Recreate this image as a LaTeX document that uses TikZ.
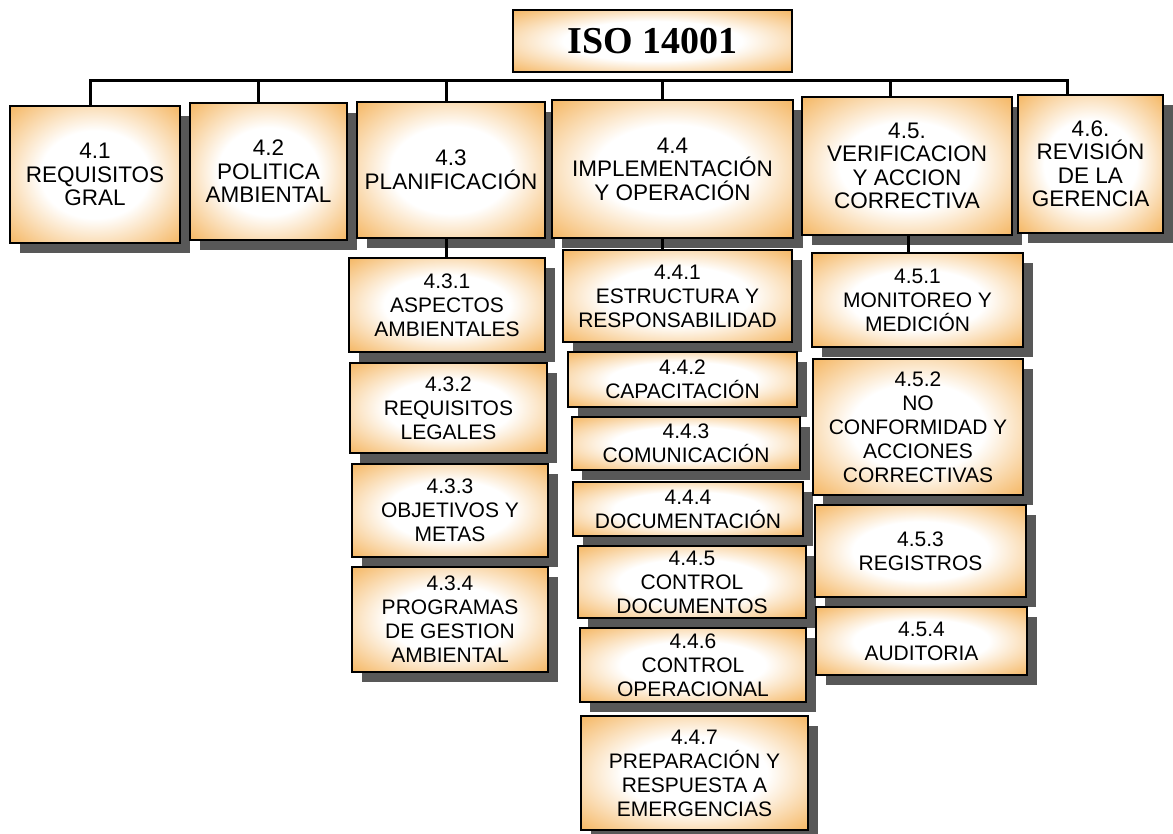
\documentclass[tikz,border=0pt]{standalone}
\usepackage{fontspec}
\setmainfont{Liberation Sans}
\newfontfamily\titleserif{Liberation Serif}
\usetikzlibrary{shadows}

\definecolor{boxorange}{RGB}{245,184,102}
\definecolor{shadowgray}{RGB}{88,88,88}
\pgfdeclareradialshading{glow}{\pgfpoint{0bp}{0bp}}{color(0bp)=(white);
  color(16bp)=(white); color(35bp)=(boxorange); color(50bp)=(boxorange)}

\begin{document}
\begin{tikzpicture}[
    x=1pt, y=-1pt,
    box/.style={draw, line width=1.2pt, shading=glow, align=center,
                inner sep=0pt, font=\fontsize{21}{24}\selectfont,
                drop shadow={shadow xshift=10pt, shadow yshift=-10pt,
                             fill=shadowgray, opacity=1}},
    mainbox/.style={box, font=\fontsize{22.5}{23.5}\selectfont},
    sz/.style 2 args={minimum width=#1pt, minimum height=#2pt},
    link/.style={line width=3pt}
  ]
  \useasboundingbox (0,0) rectangle (1173,834);

  % Title
  \node[draw, line width=1.2pt, shading=glow, inner sep=0pt, sz={279}{62},
        font=\titleserif\bfseries\fontsize{38}{40}\selectfont]
    (iso) at (652.5,41) {ISO 14001};
  \coordinate (bar) at (0,81);

  % Main clauses
  \node[mainbox, sz={170}{137}] (r41) at (95,174.5) {4.1\\REQUISITOS\\GRAL};
  \node[mainbox, sz={157}{137}] (r42) at (268.5,171.5) {4.2\\POLITICA\\AMBIENTAL};
  \node[mainbox, sz={188}{136}] (r43) at (451,170) {4.3\\PLANIFICACIÓN};
  \node[mainbox, sz={241}{138}] (r44) at (672.5,169)
    {4.4\\IMPLEMENTACIÓN\\Y OPERACIÓN};
  \node[mainbox, sz={210}{138}] (r45) at (907,166)
    {4.5.\\VERIFICACION\\Y ACCION\\CORRECTIVA};
  \node[mainbox, sz={145}{138}] (r46) at (1090.5,164)
    {4.6.\\REVISIÓN\\DE LA\\GERENCIA};

  % 4.3 planificacion
  \node[box, sz={196}{94}] (r431) at (447,305) {4.3.1\\ASPECTOS\\AMBIENTALES};
  \node[box, sz={197}{90}] (r432) at (448.5,408) {4.3.2\\REQUISITOS\\LEGALES};
  \node[box, sz={196}{93}] (r433) at (450,510.5) {4.3.3\\OBJETIVOS Y\\METAS};
  \node[box, sz={196}{105}] (r434) at (450,619.5)
    {4.3.4\\PROGRAMAS\\DE GESTION\\AMBIENTAL};

  % 4.4 implementacion
  \node[box, sz={229}{92}] (r441) at (677.5,296)
    {4.4.1\\ESTRUCTURA Y\\RESPONSABILIDAD};
  \node[box, sz={229}{55}] (r442) at (682.5,379.5) {4.4.2\\CAPACITACIÓN};
  \node[box, sz={228}{53}] (r443) at (686,443.5) {4.4.3\\COMUNICACIÓN};
  \node[box, sz={230}{54}] (r444) at (688,509) {4.4.4\\DOCUMENTACIÓN};
  \node[box, sz={228}{72}] (r445) at (692,582) {4.4.5\\CONTROL\\DOCUMENTOS};
  \node[box, sz={226}{74}] (r446) at (693,665) {4.4.6\\CONTROL\\OPERACIONAL};
  \node[box, sz={227}{114}] (r447) at (694.5,773)
    {4.4.7\\PREPARACIÓN Y\\RESPUESTA A\\EMERGENCIAS};

  % 4.5 verificacion
  \node[box, sz={211}{94}] (r451) at (917.5,300) {4.5.1\\MONITOREO Y\\MEDICIÓN};
  \node[box, sz={210}{136}] (r452) at (918,427)
    {4.5.2\\NO\\CONFORMIDAD Y\\ACCIONES\\CORRECTIVAS};
  \node[box, sz={211}{92}] (r453) at (920.5,551) {4.5.3\\REGISTROS};
  \node[box, sz={211}{68}] (r454) at (921.5,641) {4.5.4\\AUDITORIA};

  % Connectors
  \draw[link] ([xshift=-5pt]r41.north) -- ([xshift=-5pt]r41.north |- bar)
    -- ([xshift=-23pt]r46.north |- bar) -- ([xshift=-23pt]r46.north);
  \foreach \n/\dx in {r42/-10, r43/-5, r44/-10, r45/-17}
    \draw[link] ([xshift=\dx pt]\n.north) -- ([xshift=\dx pt]\n.north |- bar);
  \draw[link] ([xshift=-5pt]r43.south) -- ([xshift=-5pt]r43.south |- r431.north);
  \draw[link] ([xshift=-10pt]r44.south) -- ([xshift=-10pt]r44.south |- r441.north);
  \draw[link] ([xshift=1pt]r45.south) -- ([xshift=1pt]r45.south |- r451.north);
\end{tikzpicture}
\end{document}
